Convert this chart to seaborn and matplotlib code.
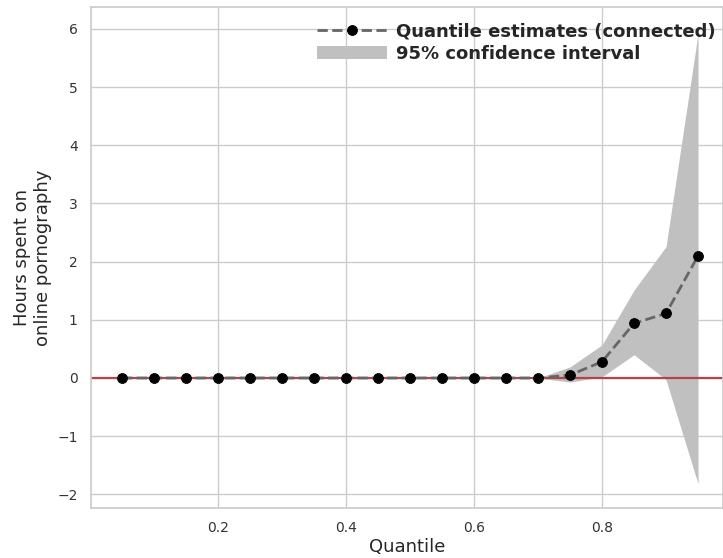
import numpy as np
import pandas as pd
import matplotlib
matplotlib.use("Agg")
import matplotlib.pyplot as plt
import seaborn as sns

quantiles = [0.05, 0.10, 0.15, 0.20, 0.25, 0.30, 0.35, 0.40, 0.45, 0.50,
             0.55, 0.60, 0.65, 0.70, 0.75, 0.80, 0.85, 0.90, 0.95]
estimates = [0, 0, 0, 0, 0, 0, 0, 0, 0, 0, 0, 0, 0, 0, 0.05, 0.28, 0.94, 1.11, 2.10]
ci_lower = [0, 0, 0, 0, 0, 0, 0, 0, 0, 0, 0, 0, 0, 0, -0.07, 0.02, 0.40, -0.03, -1.82]
ci_upper = [0, 0, 0, 0, 0, 0, 0, 0, 0, 0, 0, 0, 0, 0, 0.19, 0.57, 1.51, 2.26, 5.92]

df = pd.DataFrame({"q": quantiles, "est": estimates, "lo": ci_lower, "hi": ci_upper})

sns.set_theme(style="whitegrid")
plt.rcParams['font.family'] = ['DejaVu Sans']

fig = plt.figure(figsize=(7.23, 5.58), dpi=100)
ax = fig.add_axes([91/723, 1 - 508/558, 1 - 91/723, (508 - 7)/558])

ax.fill_between(df["q"], df["lo"], df["hi"], color="#c0c0c0", linewidth=0,
                label="95% confidence interval", zorder=1)
ax.axhline(0, color="#b5444a", linewidth=1.6, zorder=2)
sns.lineplot(data=df, x="q", y="est", ax=ax, color="#666666", linestyle="--",
             linewidth=2, marker="o", markersize=7, markerfacecolor="black",
             markeredgecolor="black", label="Quantile estimates (connected)", zorder=3)

ax.set_xlim(0.0016, 0.989)
ax.set_ylim(-2.235, 6.378)
ax.set_xticks([0.2, 0.4, 0.6, 0.8])
ax.set_yticks([-2, -1, 0, 1, 2, 3, 4, 5, 6])
ax.tick_params(labelsize=10, colors="#333333")
ax.set_xlabel("Quantile", fontsize=13, labelpad=2)
ax.set_ylabel("Hours spent on\nonline pornography", fontsize=13)

h, l = ax.get_legend_handles_labels()
order = [l.index("Quantile estimates (connected)"), l.index("95% confidence interval")]
leg = ax.legend([h[i] for i in order], [l[i] for i in order], loc="upper right",
                frameon=False, prop={"weight": "bold", "size": 13},
                borderaxespad=0.0, handlelength=3.9, handletextpad=0.45,
                labelspacing=0.25, bbox_to_anchor=(0.999, 0.984))

fig.savefig("out.png", dpi=100)
